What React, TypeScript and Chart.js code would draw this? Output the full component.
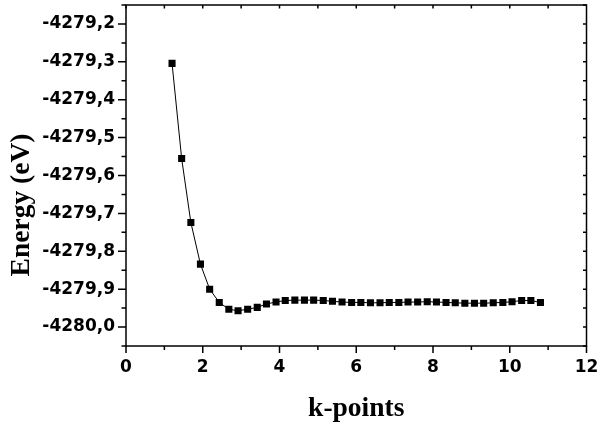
import React, { useEffect, useRef } from 'react';
import { Chart, registerables } from 'chart.js';

Chart.register(...registerables);

const K_POINTS = [
  1.2, 1.45, 1.69, 1.94, 2.18, 2.43, 2.68, 2.92, 3.17, 3.42,
  3.66, 3.91, 4.15, 4.4, 4.65, 4.89, 5.14, 5.38, 5.63, 5.88,
  6.12, 6.37, 6.62, 6.86, 7.11, 7.35, 7.6, 7.85, 8.09, 8.34,
  8.58, 8.83, 9.08, 9.32, 9.57, 9.82, 10.06, 10.31, 10.55, 10.8,
];
const ENERGY = [
  -4279.304, -4279.555, -4279.724, -4279.834, -4279.9, -4279.935, -4279.953, -4279.957, -4279.953, -4279.948,
  -4279.939, -4279.934, -4279.93, -4279.929, -4279.929, -4279.929, -4279.93, -4279.932, -4279.934, -4279.935,
  -4279.935, -4279.936, -4279.936, -4279.935, -4279.935, -4279.934, -4279.934, -4279.933, -4279.934, -4279.935,
  -4279.936, -4279.937, -4279.937, -4279.937, -4279.936, -4279.935, -4279.933, -4279.93, -4279.93, -4279.935,
];
const X_TICKS = [0, 2, 4, 6, 8, 10, 12];
const X_TICK_LABELS = ['0', '2', '4', '6', '8', '10', '12'];
const Y_TICKS = [-4280.0, -4279.9, -4279.8, -4279.7, -4279.6, -4279.5, -4279.4, -4279.3, -4279.2];
const Y_TICK_LABELS = ['-4280,0', '-4279,9', '-4279,8', '-4279,7', '-4279,6', '-4279,5', '-4279,4', '-4279,3', '-4279,2'];
const X_TITLE = 'k-points';
const Y_TITLE = 'Energy (eV)';

const X_MIN = 0;
const X_MAX = 12;
const Y_MIN = -4280.05;
const Y_MAX = -4279.15;

const framePlugin = {
  id: 'originFrame',
  afterDraw(chart: any) {
    const { ctx, chartArea } = chart;
    const { left, right, top, bottom } = chartArea;
    const xs = chart.scales.x;
    const ys = chart.scales.y;
    ctx.save();
    ctx.strokeStyle = '#000';
    ctx.lineWidth = 1.5;
    ctx.strokeRect(left, top, right - left, bottom - top);

    ctx.beginPath();
    for (let i = 0; i < Y_TICKS.length; i++) {
      const p = ys.getPixelForValue(Y_TICKS[i]);
      ctx.moveTo(left - 8, p);
      ctx.lineTo(left, p);
    }
    const yMinor: number[] = [];
    for (let i = 0; i <= Y_TICKS.length; i++) {
      const a = i === 0 ? Y_TICKS[0] - 0.1 : Y_TICKS[i - 1];
      yMinor.push(a + 0.05);
    }
    yMinor.forEach((v) => {
      if (v < Y_MIN - 1e-6 || v > Y_MAX + 1e-6) return;
      const p = ys.getPixelForValue(v);
      ctx.moveTo(left - 4.5, p);
      ctx.lineTo(left, p);
    });
    Y_TICKS.concat(yMinor).forEach((v) => {
      if (v < Y_MIN - 1e-6 || v > Y_MAX + 1e-6) return;
      const p = ys.getPixelForValue(v);
      ctx.moveTo(right, p);
      ctx.lineTo(right - 3.5, p);
    });
    X_TICKS.forEach((v) => {
      const p = xs.getPixelForValue(v);
      ctx.moveTo(p, bottom);
      ctx.lineTo(p, bottom + 7);
    });
    for (let i = 0; i < X_TICKS.length - 1; i++) {
      const p = xs.getPixelForValue((X_TICKS[i] + X_TICKS[i + 1]) / 2);
      ctx.moveTo(p, bottom);
      ctx.lineTo(p, bottom + 4);
    }
    for (let i = 0; i < X_TICKS.length - 1; i++) {
      [X_TICKS[i], (X_TICKS[i] + X_TICKS[i + 1]) / 2].forEach((v) => {
        const p = xs.getPixelForValue(v);
        ctx.moveTo(p, top);
        ctx.lineTo(p, top + 3.5);
      });
    }
    ctx.stroke();

    ctx.fillStyle = '#000';
    ctx.font = 'bold 27.5px "Liberation Serif", "Times New Roman", serif';
    ctx.textAlign = 'center';
    ctx.textBaseline = 'middle';
    ctx.fillText(X_TITLE, (left + right) / 2, 409);
    ctx.save();
    ctx.translate(22, 205);
    ctx.rotate(-Math.PI / 2);
    ctx.fillText(Y_TITLE, 0, 0);
    ctx.restore();
    ctx.restore();
  },
};

export default function App() {
  const canvasRef = useRef<HTMLCanvasElement | null>(null);

  useEffect(() => {
    const canvas = canvasRef.current;
    if (!canvas) return;
    const tickFont = { family: '"DejaVu Sans", sans-serif', weight: 'bold' as const, size: 17 };
    const chart = new Chart(canvas, {
      type: 'line',
      data: {
        datasets: [
          {
            data: K_POINTS.map((k, i) => ({ x: k, y: ENERGY[i] })),
            borderColor: '#000',
            backgroundColor: '#000',
            borderWidth: 1,
            tension: 0,
            pointStyle: 'rect',
            pointRadius: 5,
            pointBorderWidth: 0,
            pointBackgroundColor: '#000',
          },
        ],
      },
      options: {
        responsive: false,
        animation: false,
        events: [],
        layout: { padding: { left: 0, top: 4, right: 12.5, bottom: 0 } },
        plugins: {
          legend: { display: false },
          tooltip: { enabled: false },
          title: { display: false },
        },
        scales: {
          x: {
            type: 'linear',
            min: X_MIN,
            max: X_MAX,
            afterBuildTicks: (s: any) => {
              s.ticks = X_TICKS.map((v) => ({ value: v }));
            },
            afterFit: (s: any) => {
              s.height = 85;
              s.paddingLeft = 0;
              s.paddingRight = 0;
              s.paddingTop = 0;
              s.paddingBottom = 0;
            },
            grid: { display: false, drawTicks: false },
            border: { display: false },
            ticks: {
              font: tickFont,
              color: '#000',
              padding: 11,
              maxRotation: 0,
              autoSkip: false,
              callback: (_v: any, i: number) => X_TICK_LABELS[i],
            },
          },
          y: {
            type: 'linear',
            min: Y_MIN,
            max: Y_MAX,
            afterBuildTicks: (s: any) => {
              s.ticks = Y_TICKS.map((v) => ({ value: v }));
            },
            afterFit: (s: any) => {
              s.width = 126;
              s.paddingLeft = 0;
              s.paddingRight = 0;
              s.paddingTop = 0;
              s.paddingBottom = 0;
            },
            grid: { display: false, drawTicks: false },
            border: { display: false },
            ticks: {
              font: tickFont,
              color: '#000',
              padding: 11,
              autoSkip: false,
              callback: (_v: any, i: number) => Y_TICK_LABELS[i],
            },
          },
        },
      },
      plugins: [framePlugin],
    });
    return () => chart.destroy();
  }, []);

  return (
    <div style={{ position: 'fixed', left: 0, top: 0, width: 599, height: 431, background: '#fff' }}>
      <canvas ref={canvasRef} width={599} height={431} style={{ display: 'block' }} />
    </div>
  );
}
